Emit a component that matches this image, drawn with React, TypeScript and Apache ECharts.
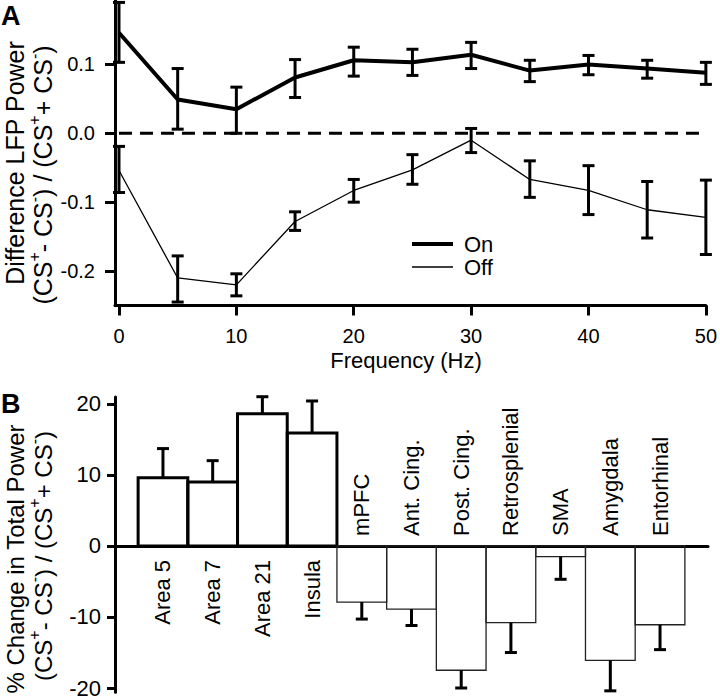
import React, { useEffect, useRef } from 'react';
import * as echarts from 'echarts';

// ---------- Panel A data ----------
const freqs = [0, 5, 10, 15, 20, 25, 30, 35, 40, 45, 50];
const onMean = [0.146, 0.049, 0.035, 0.081, 0.106, 0.103, 0.114, 0.091, 0.1, 0.094, 0.088];
const onLow = [0.103, 0.006, 0.0, 0.052, 0.083, 0.084, 0.094, 0.075, 0.085, 0.08, 0.071];
const onHigh = [0.19, 0.094, 0.067, 0.107, 0.125, 0.122, 0.132, 0.106, 0.113, 0.106, 0.103];
const offMean = [-0.054, -0.21, -0.22, -0.128, -0.083, -0.053, -0.01, -0.067, -0.083, -0.111, -0.122];
const offLow = [-0.086, -0.245, -0.236, -0.141, -0.1, -0.074, -0.028, -0.093, -0.118, -0.152, -0.176];
const offHigh = [-0.019, -0.178, -0.204, -0.114, -0.067, -0.031, 0.007, -0.04, -0.047, -0.07, -0.068];
const topXTicks = [0, 10, 20, 30, 40, 50];
const topYTicks = [-0.2, -0.1, 0, 0.1];

// ---------- Panel B data ----------
const regions = ['Area 5', 'Area 7', 'Area 21', 'Insula', 'mPFC', 'Ant. Cing.', 'Post. Cing.', 'Retrosplenial', 'SMA', 'Amygdala', 'Entorhinal'];
const pctChange = [9.6, 9.0, 18.6, 15.9, -7.9, -8.9, -17.5, -10.8, -1.5, -16.1, -11.1];
const pctErrorEnd = [13.7, 12.0, 21.0, 20.4, -10.3, -11.2, -20.0, -15.0, -4.7, -20.4, -14.6];
const bottomYTicks = [-20, -10, 0, 10, 20];

const FONT = "'Liberation Sans', Arial, Helvetica, sans-serif";

function errorBarItem(capHalf: number, lw: number) {
  return (params: any, api: any) => {
    const x = api.value(0);
    const lo = api.coord([x, api.value(1)]);
    const hi = api.coord([x, api.value(2)]);
    const st = { stroke: '#000', lineWidth: lw };
    return {
      type: 'group',
      children: [
        { type: 'line', shape: { x1: lo[0], y1: lo[1], x2: hi[0], y2: hi[1] }, style: st },
        { type: 'line', shape: { x1: lo[0] - capHalf, y1: lo[1], x2: lo[0] + capHalf, y2: lo[1] }, style: st },
        { type: 'line', shape: { x1: hi[0] - capHalf, y1: hi[1], x2: hi[0] + capHalf, y2: hi[1] }, style: st },
      ],
    };
  };
}

export default function App() {
  const ref = useRef<HTMLDivElement>(null);

  useEffect(() => {
    if (!ref.current) return;
    const chart = echarts.init(ref.current, undefined, { renderer: 'svg' });

    const axisLineStyle = { color: '#000', width: 3 };
    const supTitle = '(CS{sup|+}- CS{sup|-}) / (CS{sup|+}+ CS{sup|-})';
    const titleRich = { sup: { fontSize: 16, fontFamily: FONT, fill: '#000', color: '#000', verticalAlign: 'top' } };

    const baseGraphic: any[] = [
      { id: 'lblA', type: 'text', x: 1, y: 16, style: { text: 'A', fontSize: 27, fontWeight: 'bold', fontFamily: FONT, fill: '#000', align: 'left', verticalAlign: 'middle' } },
      { id: 'lblB', type: 'text', x: 1, y: 404, style: { text: 'B', fontSize: 27, fontWeight: 'bold', fontFamily: FONT, fill: '#000', align: 'left', verticalAlign: 'middle' } },
      { id: 'ytA1', type: 'text', x: 15, y: 163, rotation: Math.PI / 2, style: { text: 'Difference LFP Power', fontSize: 25, fontFamily: FONT, fill: '#000', align: 'center', verticalAlign: 'middle' } },
      { id: 'ytA2', type: 'text', x: 43, y: 175, rotation: Math.PI / 2, style: { text: supTitle, rich: titleRich, fontSize: 25, lineHeight: 34, fontFamily: FONT, fill: '#000', align: 'center', verticalAlign: 'middle' } },
      { id: 'ytB1', type: 'text', x: 15, y: 559, rotation: Math.PI / 2, style: { text: '% Change in Total Power', fontSize: 24, fontFamily: FONT, fill: '#000', align: 'center', verticalAlign: 'middle' } },
      { id: 'ytB2', type: 'text', x: 43, y: 556, rotation: Math.PI / 2, style: { text: supTitle, rich: titleRich, fontSize: 24, lineHeight: 34, fontFamily: FONT, fill: '#000', align: 'center', verticalAlign: 'middle' } },
      { id: 'xtA', type: 'text', x: 406, y: 360, style: { text: 'Frequency (Hz)', fontSize: 22, fontFamily: FONT, fill: '#000', align: 'center', verticalAlign: 'middle' } },
      { id: 'legOnLine', type: 'line', shape: { x1: 412, y1: 244, x2: 453, y2: 244 }, style: { stroke: '#000', lineWidth: 4 } },
      { id: 'legOnText', type: 'text', x: 464, y: 244, style: { text: 'On', fontSize: 22, fontFamily: FONT, fill: '#000', align: 'left', verticalAlign: 'middle' } },
      { id: 'legOffLine', type: 'line', shape: { x1: 412, y1: 267, x2: 453, y2: 267 }, style: { stroke: '#000', lineWidth: 1.3 } },
      { id: 'legOffText', type: 'text', x: 464, y: 267, style: { text: 'Off', fontSize: 22, fontFamily: FONT, fill: '#000', align: 'left', verticalAlign: 'middle' } },
    ];

    const option: any = {
      animation: false,
      backgroundColor: '#fff',
      grid: [
        { left: 115, right: 12, top: 0, height: 305.5 },
        { left: 115, right: 12, top: 397, height: 298 },
      ],
      xAxis: [
        {
          type: 'value', gridIndex: 0, min: -0.34, max: 50,
          axisLine: { show: true, onZero: false, lineStyle: axisLineStyle },
          axisTick: { show: true, customValues: topXTicks, length: 10, lineStyle: { color: '#000', width: 3 } },
          axisLabel: { customValues: topXTicks, margin: 20, fontSize: 20, color: '#000', fontFamily: FONT },
          splitLine: { show: false },
        },
        {
          type: 'value', gridIndex: 1, min: -0.965, max: 10.965,
          axisLine: { show: true, onZero: true, lineStyle: axisLineStyle },
          axisTick: { show: false },
          axisLabel: { show: false },
          splitLine: { show: false },
        },
      ],
      yAxis: [
        {
          type: 'value', gridIndex: 0, min: -0.25, max: 0.1935,
          axisLine: { show: true, onZero: false, lineStyle: axisLineStyle },
          axisTick: { show: true, customValues: topYTicks, length: 10, lineStyle: { color: '#000', width: 3 } },
          axisLabel: { customValues: topYTicks, margin: 20, fontSize: 20, color: '#000', fontFamily: FONT, formatter: (v: number) => v.toFixed(1) },
          splitLine: { show: false },
        },
        {
          type: 'value', gridIndex: 1, min: -20.6, max: 20.96,
          axisLine: { show: true, onZero: false, lineStyle: axisLineStyle },
          axisTick: { show: true, customValues: bottomYTicks, length: 8, lineStyle: { color: '#000', width: 3 } },
          axisLabel: { customValues: bottomYTicks, margin: 14, fontSize: 22, color: '#000', fontFamily: FONT },
          splitLine: { show: false },
        },
      ],
      series: [
        {
          name: 'zero', type: 'line', xAxisIndex: 0, yAxisIndex: 0, symbol: 'none',
          data: [[0, 0], [50, 0]],
          lineStyle: { color: '#000', width: 3, type: [13, 8] },
          silent: true,
        },
        {
          name: 'On', type: 'line', xAxisIndex: 0, yAxisIndex: 0, symbol: 'none',
          data: freqs.map((f, i) => [f, onMean[i]]),
          lineStyle: { color: '#000', width: 4 },
        },
        {
          name: 'Off', type: 'line', xAxisIndex: 0, yAxisIndex: 0, symbol: 'none',
          data: freqs.map((f, i) => [f, offMean[i]]),
          lineStyle: { color: '#000', width: 1.3 },
        },
        {
          name: 'On error', type: 'custom', xAxisIndex: 0, yAxisIndex: 0,
          data: freqs.map((f, i) => [f, onLow[i], onHigh[i]]),
          renderItem: errorBarItem(6, 3),
        },
        {
          name: 'Off error', type: 'custom', xAxisIndex: 0, yAxisIndex: 0,
          data: freqs.map((f, i) => [f, offLow[i], offHigh[i]]),
          renderItem: errorBarItem(6, 3),
        },
        {
          name: 'Regions', type: 'custom', xAxisIndex: 1, yAxisIndex: 1,
          data: regions.map((r, i) => [i, pctChange[i], pctErrorEnd[i]]),
          renderItem: (params: any, api: any) => {
            const i = api.value(0);
            const v = api.value(1);
            const e = api.value(2);
            const base = api.coord([i, 0]);
            const top = api.coord([i, v]);
            const err = api.coord([i, e]);
            const w = api.size([1, 0])[0];
            const pos = v > 0;
            return {
              type: 'group',
              children: [
                {
                  type: 'rect',
                  shape: { x: base[0] - w / 2, y: Math.min(base[1], top[1]), width: w, height: Math.abs(top[1] - base[1]) },
                  style: { fill: 'none', stroke: pos ? '#000' : '#222', lineWidth: pos ? 3 : 1.3 },
                },
                { type: 'line', shape: { x1: top[0], y1: top[1], x2: err[0], y2: err[1] }, style: { stroke: '#000', lineWidth: 3 } },
                { type: 'line', shape: { x1: err[0] - 6, y1: err[1], x2: err[0] + 6, y2: err[1] }, style: { stroke: '#000', lineWidth: 3 } },
              ],
            };
          },
        },
      ],
      graphic: baseGraphic,
    };

    chart.setOption(option);

    // Category labels (rotated), positioned through the bottom panel's axes.
    const labelGraphic = regions.map((name, i) => {
      const pos = pctChange[i] > 0;
      const p = chart.convertToPixel({ xAxisIndex: 1, yAxisIndex: 1 } as any, [i, 0]) as number[];
      return {
        id: 'cat' + i,
        type: 'text',
        x: p[0],
        y: pos ? p[1] + 14 : p[1] - 10,
        rotation: Math.PI / 2,
        style: {
          text: name,
          fontSize: 22, fontFamily: FONT, fill: '#000',
          align: pos ? 'right' : 'left', verticalAlign: 'middle',
        },
      };
    });
    chart.setOption({ graphic: [...baseGraphic, ...labelGraphic] });

    return () => chart.dispose();
  }, []);

  return (
    <div
      ref={ref}
      style={{ position: 'fixed', left: 0, top: 0, width: 720, height: 699, background: '#fff' }}
    />
  );
}
